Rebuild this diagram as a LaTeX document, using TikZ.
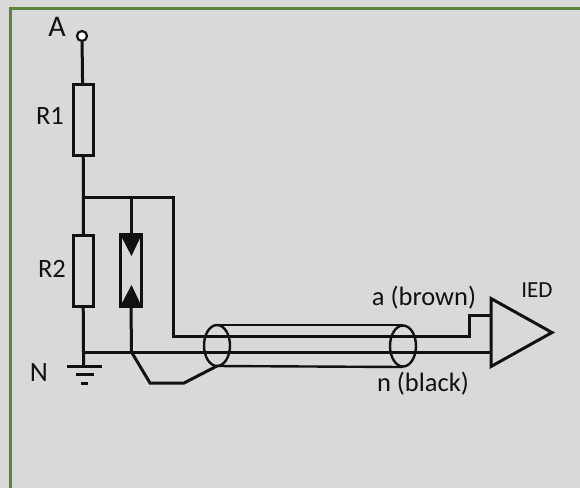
\documentclass[tikz,border=0pt]{standalone}
\usetikzlibrary{shapes.geometric}
\usepackage{fontspec}
\setmainfont{Carlito}
\definecolor{bggrey}{RGB}{217,217,217}
\definecolor{frameg}{RGB}{88,134,60}
\definecolor{ink}{RGB}{17,17,17}
\tikzset{
  wire/.style={draw=ink,line width=3pt,line join=miter},
  thin wire/.style={draw=ink,line width=2.4pt},
  res/.style={draw=ink,line width=3pt,minimum width=20pt,minimum height=71pt,inner sep=0pt,outer sep=0pt},
  cabring/.style={ellipse,draw=ink,line width=2.4pt,minimum width=26pt,minimum height=41pt,inner sep=0pt},
  lab/.style={text=ink,inner sep=0pt,font=\fontsize{26.5}{26.5}\selectfont},
  smalllab/.style={text=ink,inner sep=0pt,font=\fontsize{26.5}{26.5}\selectfont},
}
\begin{document}
\begin{tikzpicture}[x=1pt,y=-1pt]
\useasboundingbox (0,0) rectangle (580,488);
\fill[bggrey] (0,0) rectangle (580,488);
\draw[frameg,line width=3.6pt] (10.5,488) -- (10.5,8.5) -- (580,8.5);
% terminal and resistors
\node[circle,draw=ink,fill=white,line width=2.2pt,minimum size=10pt,inner sep=0pt] (termA) at (82,36) {};
\node[res] (R1) at (83,120) {};
\node[res] (R2) at (83,270.5) {};
\coordinate (top) at (83.5,197.5);
\coordinate (topAr) at (131,197.5);
\coordinate (topR) at (173,197.5);
\coordinate (nj) at (83.5,352);
\coordinate (aj) at (131.5,352);
% surge arrester
\node[draw=ink,line width=3.2pt,minimum width=21pt,minimum height=71pt,inner sep=0pt,outer sep=0pt] (SA) at (131,270.5) {};
\fill[ink] (SA.north west) -- (SA.north east) -- (131.5,256) -- cycle;
\fill[ink] (SA.south west) -- (SA.south east) -- (131.5,285) -- cycle;
% ground
\coordinate (g1) at (83.5,366);
\coordinate (g1l) at (67,366);
\coordinate (g1r) at (102,366);
\coordinate (g2l) at (76,374.5);
\coordinate (g2r) at (94,374.5);
\coordinate (g3l) at (81,383);
\coordinate (g3r) at (88,383);
% wires
\draw[wire] (termA) -- (R1);
\draw[wire] (R1) -- (top) -- (R2);
\draw[wire] (R2) -- (nj) -- (g1);
\draw[wire] (top) -- (topAr) -- (SA.north);
\draw[wire] (topAr) -- (topR) -- (173,336.5) -- (469.5,336.5);
\draw[wire] (SA.south) -- (aj);
\draw[wire] (nj) -- (490,352);
\draw[wire] (g1l) -- (g1r);
\draw[wire] (g2l) -- (g2r);
\draw[wire] (g3l) -- (g3r);
% cable
\coordinate (cabTopL) at (217,325);
\coordinate (cabTopR) at (403,325);
\coordinate (cabBotL) at (217,366);
\coordinate (cabBotR) at (403,367);
\draw[thin wire] (cabTopL) -- (cabTopR);
\draw[thin wire] (cabBotL) -- (cabBotR);
\node[cabring] (ellL) at (217,345.5) {};
\node[cabring] (ellR) at (403,346) {};
\draw[wire] (aj) -- (150,383) -- (184,383) -- (cabBotL);
% IED
\coordinate (t1) at (491,298.5);
\coordinate (t2) at (491,366.5);
\coordinate (t3) at (552,332.5);
\draw[wire] (t1) -- (t3) -- (t2) -- cycle;
\draw[wire] (469.5,338) -- (469.5,315) -- (491,315);
% labels
\node[text=ink,inner sep=0pt,font=\fontsize{30}{30}\selectfont,anchor=base] (lA) at (57,36) {A};
\node[lab,anchor=base] (lR1) at (50,124) {R1};
\node[lab,anchor=base] (lR2) at (52,277) {R2};
\node[text=ink,inner sep=0pt,font=\fontsize{28}{28}\selectfont,anchor=base] (lN) at (39,381) {N};
\node[smalllab,anchor=base] (la) at (424,305) {a (brown)};
\node[smalllab,anchor=base] (ln) at (423,391) {n (black)};
\node[text=ink,inner sep=0pt,font=\fontsize{23}{23}\selectfont,anchor=base] (lI) at (537,297) {IED};
\end{tikzpicture}
\end{document}
